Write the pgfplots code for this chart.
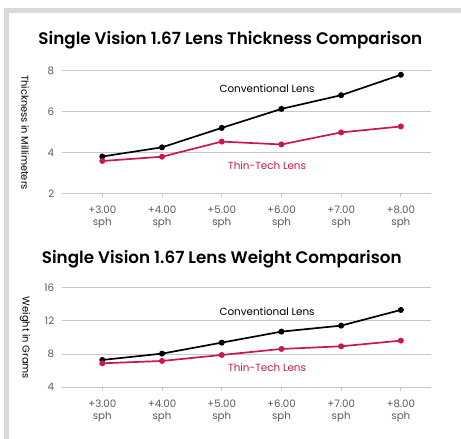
\documentclass[border=0pt]{standalone}
\usepackage{fontspec}
\setmainfont{Poppins}
\newfontfamily\titlefont{Poppins SemiBold}
\usepackage{pgfplots}
\pgfplotsset{compat=1.18}
\definecolor{thinred}{RGB}{200,25,75}
\definecolor{gridc}{RGB}{200,200,200}
\definecolor{ticklab}{RGB}{90,90,90}
\definecolor{framec}{RGB}{217,217,217}
\pgfplotsset{
  lens/.style={
    scale only axis, width=369bp, clip=false,
    xmin=2.32, xmax=8.5,
    xtick={3,4,5,6,7,8},
    xticklabels={{+3.00\\sph},{+4.00\\sph},{+5.00\\sph},{+6.00\\sph},{+7.00\\sph},{+8.00\\sph}},
    xticklabel style={align=center, font=\fontsize{10.3}{12}\selectfont, text=ticklab, yshift=-5bp},
    yticklabel style={font=\fontsize{10.3}{12}\selectfont, text=ticklab},
    /pgf/number format/assume math mode=true,
    axis line style={draw=none},
    ymajorgrids, grid style={gridc, line width=0.8bp},
    xtick pos=bottom, ytick pos=left,
    tick align=outside,
    major tick length=4bp,
    xtick style={gridc, line width=0.8bp},
    ytick style={draw=none},
  },
  conv/.style={black, line width=1.7bp, mark=*, mark size=2.1bp},
  thint/.style={color=thinred, line width=1.7bp, mark=*, mark size=2.1bp, mark options={fill=thinred, draw=thinred}},
}
\begin{document}
\begin{tikzpicture}[x=1bp,y=1bp]
\path[use as bounding box] (0,0) rectangle (461,439);
\fill[white] (0,0) rectangle (461,439);
\fill[framec] (4,0) rectangle (9,430.7);
\fill[framec] (4,425.7) rectangle (461,430.7);

\node[anchor=base west, inner sep=0pt, font=\fontsize{16.8}{20}\selectfont\titlefont] at (38.3,394) {Single Vision 1.67 Lens Thickness Comparison};
\node[anchor=base west, inner sep=0pt, font=\fontsize{16.8}{20}\selectfont\titlefont] at (41.7,175) {Single Vision 1.67 Lens Weight Comparison};
\node[rotate=-90, font=\fontsize{9.9}{12}\selectfont] at (25,306.5) {Thickness in Millimeters};
\node[rotate=-90, font=\fontsize{9.9}{12}\selectfont] at (25,101) {Weight in Grams};

\begin{axis}[lens, at={(61.7bp,245.7bp)}, anchor=south west, height=122.6bp,
  ymin=2, ymax=8, ytick={2,4,6,8}]
\addplot[conv] coordinates {(3,3.80) (4,4.25) (5,5.20) (6,6.13) (7,6.80) (8,7.80)};
\addplot[thint] coordinates {(3,3.58) (4,3.79) (5,4.53) (6,4.39) (7,4.98) (8,5.27)};
\node[font=\fontsize{10.4}{12}\selectfont, text=black] at (axis cs:5.76,7.13) {Conventional Lens};
\node[font=\fontsize{10.4}{12}\selectfont, text=thinred] at (axis cs:5.76,3.36) {Thin-Tech Lens};
\end{axis}

\begin{axis}[lens, at={(61.7bp,51.7bp)}, anchor=south west, height=100bp,
  ymin=4, ymax=16, ytick={4,8,12,16}]
\addplot[conv] coordinates {(3,7.28) (4,8.04) (5,9.36) (6,10.68) (7,11.40) (8,13.28)};
\addplot[thint] coordinates {(3,6.88) (4,7.16) (5,7.88) (6,8.60) (7,8.92) (8,9.60)};
\node[font=\fontsize{10.4}{12}\selectfont, text=black] at (axis cs:5.76,13.08) {Conventional Lens};
\node[font=\fontsize{10.4}{12}\selectfont, text=thinred] at (axis cs:5.76,6.40) {Thin-Tech Lens};
\end{axis}
\end{tikzpicture}
\end{document}
